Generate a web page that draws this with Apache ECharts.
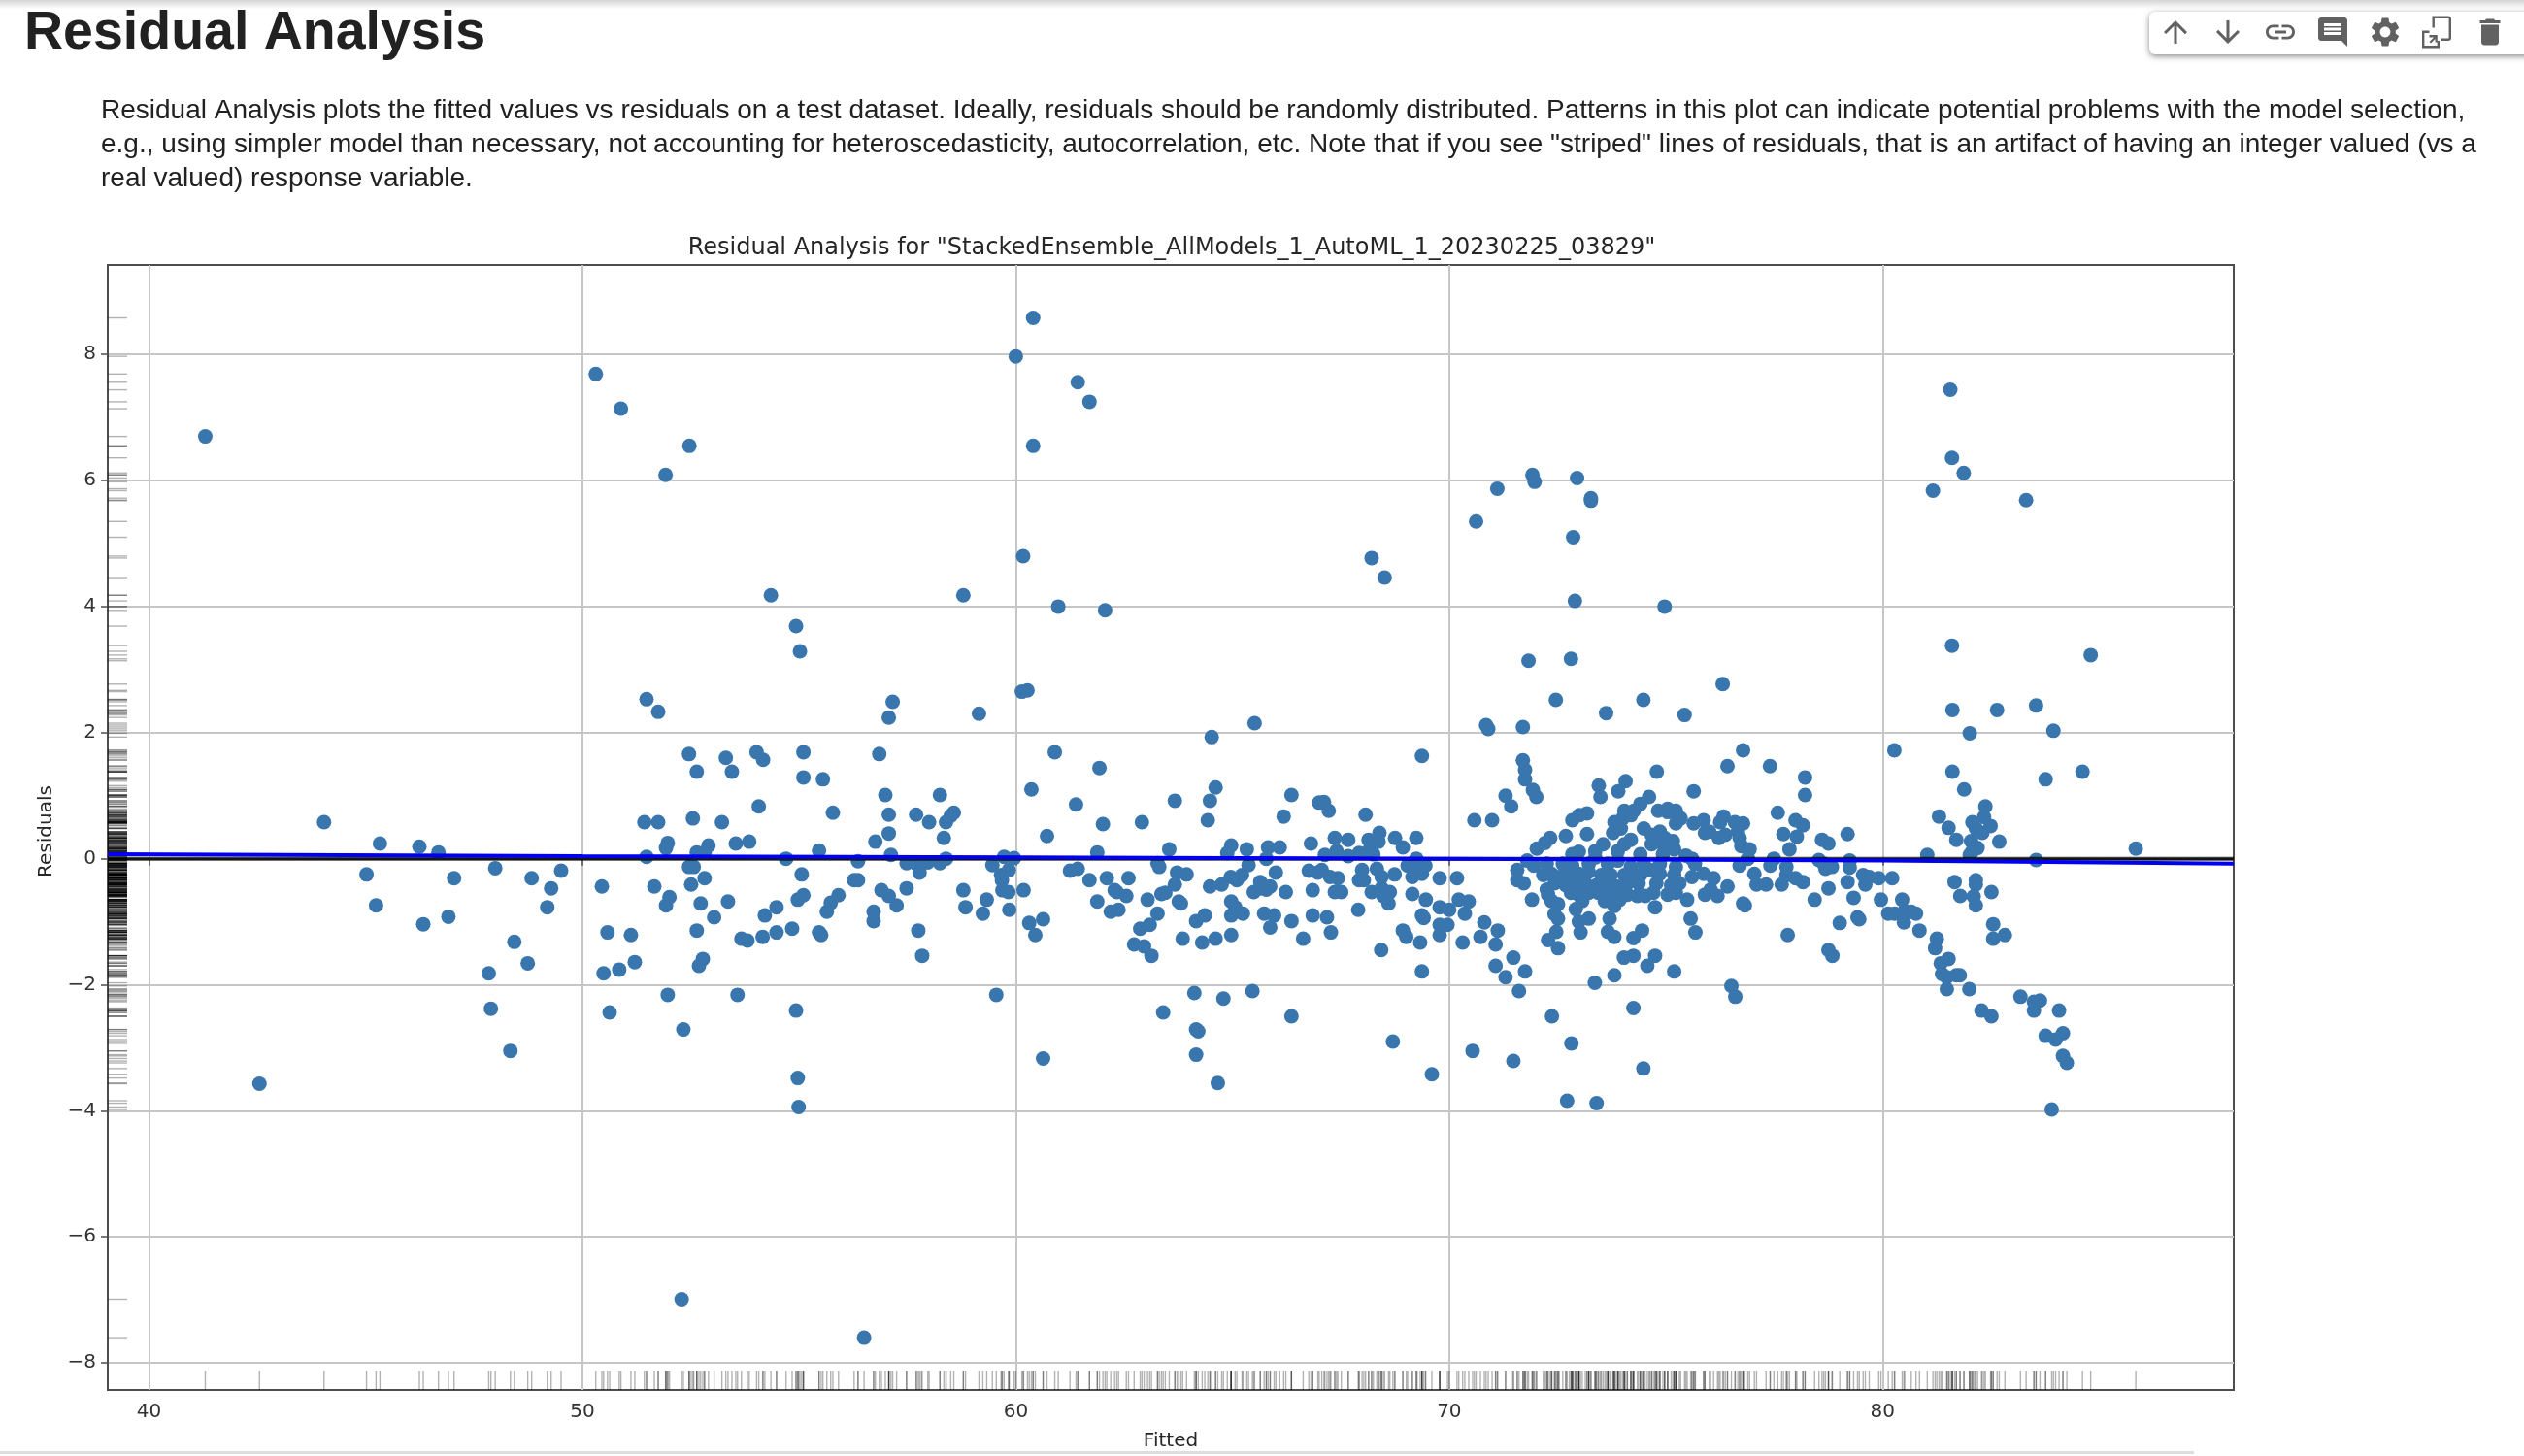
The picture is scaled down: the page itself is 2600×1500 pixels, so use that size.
<!DOCTYPE html>
<html><head><meta charset="utf-8">
<style>html,body{margin:0;padding:0;background:#fff}#c{width:2600px;height:1500px;filter:blur(.5px)}</style>
<script src="https://cdn.jsdelivr.net/npm/echarts@6/dist/echarts.min.js"></script>
</head><body><div id="c"></div>
<script>
const pageTitle = 'Residual Analysis';
const introLines = [
 'Residual Analysis plots the fitted values vs residuals on a test dataset. Ideally, residuals should be randomly distributed. Patterns in this plot can indicate potential problems with the model selection,',
 'e.g., using simpler model than necessary, not accounting for heteroscedasticity, autocorrelation, etc. Note that if you see "striped" lines of residuals, that is an artifact of having an integer valued (vs a',
 'real valued) response variable.'
];
const chartTitle = 'Residual Analysis for "StackedEnsemble_AllModels_1_AutoML_1_20230225_03829"';
const xTicks = [40,50,60,70,80];
const yTicks = [-8,-6,-4,-2,0,2,4,6,8];
const fitX = [39.05,50,60,70,80,88.1];
const fitY = [0.07,0.04,0.02,0,-0.03,-0.08];
const zeroX = [39.05,88.1];
const zeroY = [0,0];

const pts40s = [[41.30,6.70],[42.55,-3.57],[44.04,.58],[45.02,-.25],[45.24,-.74],[45.33,.24],[46.24,.19],[46.33,-1.04],[46.68,.10],[46.91,-.92],[47.04,-.31],[47.84,-1.82],[47.89,-2.38],[47.99,-.15],[48.34,-3.05],[48.43,-1.32],[48.74,-1.66],[48.83,-.31],[49.19,-.77],[49.28,-.47],[49.51,-.19]];

const pts50s = [[50.31,7.69],[50.89,7.14],[52.47,6.55],[51.92,6.09],[54.35,4.18],[54.93,3.69],[55.02,3.29],[52.29,-6.99],[56.5,-7.6],[54.99,-3.94],
[51.48,2.53],[51.75,2.33],[57.16,2.49],[57.07,2.24],[52.46,1.66],[52.64,1.38],[53.31,1.60],[53.45,1.38],[54.02,1.69],[54.17,1.57],[55.10,1.69],[55.10,1.29],[55.55,1.26],[56.85,1.66],[56.99,1.01],[54.07,.83],[55.78,.73],[57.07,.70],[57.70,.70],[58.0,.58],
[51.43,.58],[51.75,.58],[52.55,.64],[53.22,.58],[51.97,.25],[51.93,.17],[52.91,.21],[53.54,.24],[53.85,.27],[52.64,.10],[52.82,.10],[56.76,.27],[57.07,.40],[55.46,.13],[51.48,.03],[54.7,0],[56.36,-.04],[57.12,.06],[57.48,-.07],[57.82,-.08],[57.71,-.08],[57.97,-.06],[57.78,-.22],
[52.46,-.13],[52.57,-.13],[52.82,-.31],[52.51,-.41],[51.66,-.44],[50.45,-.44],[52.01,-.61],[51.93,-.74],[52.73,-.71],[53.36,-.68],[53.04,-.93],[54.21,-.90],[54.48,-.77],[55.06,-.25],[56.27,-.34],[56.36,-.34],[55.10,-.58],[54.97,-.65],[55.91,-.58],[55.73,-.70],[55.64,-.84],[56.9,-.50],[57.07,-.59],[57.25,-.74],[57.48,-.47],[56.72,-.84],[56.72,-.99],[57.75,-1.14],[57.84,-1.54],
[50.58,-1.17],[51.12,-1.21],[52.64,-1.14],[53.67,-1.27],[53.81,-1.30],[54.16,-1.24],[54.48,-1.17],[54.84,-1.11],[55.46,-1.17],[55.51,-1.21],[52.78,-1.59],[52.69,-1.70],[51.21,-1.64],[50.85,-1.76],[50.49,-1.82],[51.97,-2.16],[53.58,-2.16],[50.63,-2.44],[54.93,-2.41],[52.33,-2.71],[54.97,-3.48],
[59.15,2.30],[58.25,1.01],[58.57,.73],[58.5,.68],[58.39,.58],[58.34,.33],[58.39,0],[58.25,-.07],[59.73,.03],[59.96,.01],[59.46,-.10],[59.84,-.18],[59.66,-.26],[59.68,-.34],[58.79,-.50],[59.69,-.50],[59.83,-.53],[59.33,-.65],[58.84,-.77],[59.24,-.87],[59.85,-.81],[59.55,-2.16],[58.79,4.18]];

const pts60s = [[60.4,8.58],[60.0,7.97],[61.43,7.56],[61.70,7.25],[60.4,6.55],[60.17,4.80],[60.98,4.0],[62.06,3.94],[68.21,4.77],[68.51,4.46],[60.14,2.65],[60.27,2.67],
[60.18,-.50],[60.31,-1.02],[60.63,-.96],[60.45,-1.21],[60.63,-3.17],[60.90,1.69],[60.36,1.10],[61.93,1.44],[61.39,.86],[60.72,.36],[62.01,.55],[62.91,.58],[61.88,.10],[63.54,.15],[63.67,.92],[64.52,1.93],[65.51,2.15],[64.61,1.13],[64.48,.92],[64.43,.61],[66.36,1.01],[66.18,.67],[67.0,.89],
[61.25,-.19],[61.43,-.16],[61.70,-.34],[62.10,-.31],[62.60,-.31],[62.28,-.50],[62.33,-.53],[62.55,-.59],[61.88,-.68],[62.19,-.84],[62.37,-.81],[63.27,-.07],[63.31,-.13],[63.72,-.22],[63.94,-.25],[63.67,-.41],[63.04,-.65],[63.36,-.56],[63.45,-.54],[63.76,-.68],[63.81,-.71],[63.27,-.87],[63.09,-1.05],[62.87,-1.11],[62.73,-1.36],[62.96,-1.39],[63.13,-1.54],[63.85,-1.27],[64.16,-.99],[64.36,-.90],[64.3,-1.33],[64.61,-1.27],[64.97,-1.21],
[64.97,.21],[64.88,.09],[65.33,.15],[65.82,.18],[66.09,.18],[66.81,.24],[65.78,0],[65.37,-.10],[65.22,-.26],[65.1,-.34],[64.96,-.29],[64.75,-.41],[64.48,-.44],[66.0,-.22],[66.76,-.19],[66.97,-.22],[65.64,-.37],[65.87,-.44],[65.78,-.49],[65.49,-.53],[65.64,-.47],[66.23,-.53],[66.85,-.50],[64.97,-.68],[65.06,-.77],[64.97,-.90],[65.24,-.87],[65.73,-.87],[65.96,-.90],[65.87,-1.09],[66.36,-.99],[66.85,-.90],[66.63,-1.27],
[64.12,-2.13],[64.79,-2.22],[65.46,-2.10],[63.4,-2.44],[64.16,-2.71],[64.21,-2.74],[64.16,-3.11],[66.36,-2.50],[64.66,-3.56],
[69.37,1.63],[67.11,.90],[67.22,.76],[68.07,.70],[67.36,.33],[67.67,.30],[68.39,.41],[68.14,.30],[68.37,.27],[68.75,.33],[68.93,.18],[69.24,.33],[67.4,.12],[67.13,.06],[67.67,.04],[67.92,.09],[68.14,.12],[68.25,.07],
[69.24,0],[69.04,-.11],[69.45,-.11],[69.26,-.18],[69.37,-.24],[69.15,-.29],[67.99,-.18],[68.33,-.16],[68.44,-.29],[68.74,-.25],[67.06,-.18],[67.25,-.29],[67.43,-.31],[67.92,-.34],[68.03,-.34],[67.36,-.53],[67.51,-.53],[68.21,-.53],[68.44,-.47],[68.63,-.53],[68.48,-.59],[68.6,-.71],[67.9,-.81],[69.15,-.56],[69.46,-.65],[69.78,-.31],[69.78,-.77],[69.37,-.90],[69.41,-.94],[67.18,-.93],[67.27,-1.17],[68.93,-1.14],[69.01,-1.24],[69.33,-1.33],[68.43,-1.45],[69.78,-1.05],[69.78,-1.21],[69.96,-1.05],[69.37,-1.79],[68.7,-2.90],[69.6,-3.42]];

const pts70s = [[70.62,5.35],[71.11,5.87],[71.92,6.09],[71.97,5.98],[72.95,6.04],[73.27,5.72],[73.27,5.68],[72.86,5.10],[72.9,4.09],[71.83,3.14],[72.81,3.17],[72.46,2.52],[73.62,2.31],[74.48,2.52],[75.43,2.28],[74.97,4.0],[76.31,2.77],
[70.0,-.81],[70.18,-.31],[70.22,-.65],[70.45,-.68],[70.36,-.87],[70.31,-1.33],[70.81,-1.01],[71.12,-1.14],[70.72,-1.24],[71.07,-1.36],[71.48,-1.57],[71.07,-1.70],[71.30,-1.88],[71.75,-1.79],[71.61,-2.10],[70.54,-3.05],[71.48,-3.21],[72.82,-2.93],[72.37,-2.50],[74.25,-2.37],[74.48,-3.33],[73.36,-1.97],[73.81,-1.85],[74.57,-1.70],[74.75,-1.54],[75.19,-1.79],[74.03,-1.57],[74.25,-1.54],
[72.72,-3.84],[73.4,-3.88],
[70.58,.61],[70.99,.61],[71.30,1.0],[71.43,.83],[71.70,1.56],[71.75,1.41],[71.75,1.26],[71.93,1.09],[72.01,.98],[70.85,2.12],[70.9,2.06],[71.70,2.09],
[73.45,1.16],[73.49,.98],[74.07,1.23],[73.9,1.07],[74.79,1.38],[75.64,1.07],[74.61,.98],[73.18,.72],[73.0,.69],[72.84,.61],[72.69,.36],[73.18,.39],[72.33,.33],[72.21,.25],[72.02,.16],
[74.41,.87],[74.26,.76],[74.04,.76],[74.19,.69],[74.0,.64],[73.81,.58],[73.78,.41],[73.96,.48],[74.19,.30],[74.04,.23],[73.89,.12],[73.55,.23],[73.37,.12],[72.99,.11],[72.84,.07],
[74.82,.76],[75.04,.79],[75.23,.76],[75.34,.64],[75.23,.56],[75.04,.74],[75.64,.56],[75.87,.61],[75.9,.41],[74.49,.48],[74.67,.38],[74.86,.43],[74.78,.28],[74.97,.33],[75.16,.28],[74.97,.17],[74.67,.23],[75.19,.15],[74.93,.07],[74.41,.07],[75.46,.05],[75.6,0],
[71.8,-.03],[71.95,-.11],[72.25,-.08],[72.62,-.08],[72.84,-.11],[73.22,-.08],[73.37,.02],[73.66,-.08],[73.89,-.03],[74.19,-.13],[74.49,-.08],[74.86,-.08],[75.23,-.13],[75.67,-.08],
[71.57,-.18],[71.57,-.34],[71.72,-.39],[71.91,-.65],
[72.17,-.26],[72.36,-.24],[72.54,-.29],[72.77,-.24],[72.99,-.24],[73.22,-.21],[73.51,-.26],[73.73,-.26],[74.04,-.26],[74.22,-.24],[74.41,-.26],[74.63,-.18],[74.86,-.24],[75.19,-.26],[75.6,-.29],[75.87,-.24],
[72.25,-.49],[72.43,-.39],[72.69,-.42],[72.92,-.39],[73.14,-.39],[73.4,-.42],[73.66,-.39],[73.85,-.44],[74.11,-.39],[74.37,-.39],[74.78,-.39],[75.12,-.42],[75.31,-.39],
[72.28,-.57],[72.81,-.54],[72.99,-.57],[73.22,-.54],[73.44,-.54],[73.66,-.57],[73.89,-.52],[74.11,-.57],[74.34,-.59],[74.52,-.59],[74.71,-.54],[75.04,-.57],[75.23,-.54],[75.9,-.57],
[72.36,-.67],[72.51,-.72],[73.07,-.67],[73.59,-.67],[73.78,-.7],[73.93,-.65],[75.49,-.65],[74.75,-.77],[72.92,-.8],[73.81,-.75],[72.43,-.88],[72.51,-.95],[73.22,-.95],[72.99,-1.0],[73.7,-.95],[73.03,-1.17],[73.66,-1.16],[73.81,-1.24],[74.45,-1.14],[74.25,-1.26],[72.47,-1.16],[72.28,-1.29],[72.51,-1.42],[75.57,-.95],[75.68,-1.17],
[76.78,1.72],[76.42,1.47],[77.40,1.47],[78.21,1.29],[78.21,1.01],[77.58,.73],[76.33,.67],[76.25,.58],[76.59,.58],[76.78,.56],[77.99,.61],[78.16,.53],[77.71,.39],[78.02,.35],[76.22,.33],[76.37,.38],[76.0,.43],[76.66,.43],[76.7,.33],[76.74,.2],[76.93,.15],[78.6,.3],[78.75,.24],[79.19,.39],[77.85,.15],[77.49,0],[77.41,-.11],[77.78,-.13],[76.7,-.11],[76.89,0],[78.53,-.02],[78.68,-.16],[78.83,-.13],[78.64,-.08],[79.24,-.03],[79.24,-.14],
[77.04,-.24],[77.09,-.41],[77.31,-.41],[76.1,-.31],[76.42,-.44],[76.03,-.49],[76.19,-.59],[77.78,-.26],[77.67,-.41],[77.99,-.31],[78.16,-.37],[78.75,-.47],[78.43,-.65],[76.78,-.71],[76.82,-.74],[79.19,-.37],[79.33,-.62],[79.55,-.26],[79.69,-.29],[79.91,-.31],[79.6,-.41],[79.96,-.65],[79.01,-1.02],[79.42,-.93],[79.46,-.96],[77.81,-1.21],[78.75,-1.45],[78.84,-1.54],[76.51,-2.02],[76.6,-2.19]];

const pts80s = [[81.03,.06],[82.01,.06],[83.54,-.02],[81.61,2.36],[82.64,2.36],[83.54,2.43],[82.01,1.99],[83.94,2.03],[80.27,1.72],[81.61,1.38],[81.88,1.10],[83.76,1.26],[84.61,1.38],[82.37,.83],[81.3,.67],[81.52,.49],[81.7,.30],[82.69,.27],[82.07,.58],[82.34,.66],[82.15,.48],[82.49,.52],[82.3,.41],[82.04,.28],[82.19,.17],[82.07,.12],
[81.66,-.37],[82.15,-.34],[82.15,-.41],[82.51,-.53],[81.79,-.59],[82.1,-.6],[82.15,-.74],[82.55,-1.04],[82.82,-1.21],[82.55,-1.27],
[80.22,-.31],[80.13,-.87],[80.28,-.87],[80.45,-.65],[80.51,-.83],[80.66,-.84],[80.77,-.87],[80.49,-1.01],[80.85,-1.14],[81.25,-1.27],[81.21,-1.42],[81.52,-1.59],[81.34,-1.66],[81.37,-1.83],[81.48,-1.88],[81.7,-1.85],[81.78,-1.85],[81.48,-2.07],[82.0,-2.07],[82.28,-2.41],[82.51,-2.5],[83.18,-2.19],[83.49,-2.27],[83.63,-2.25],[83.49,-2.41],[84.07,-2.41],[83.76,-2.81],[83.99,-2.87],[84.16,-2.77],[84.16,-3.13],[84.25,-3.24],[83.9,-3.98],
[81.56,7.44],[81.6,6.36],[81.87,6.12],[81.16,5.84],[83.31,5.69],[81.6,3.38],[84.8,3.23],[85.84,.16]];

const icons = [
 'M4 12l1.41 1.41L11 7.83V20h2V7.83l5.58 5.59L20 12l-8-8-8 8z',
 'M20 12l-1.41-1.41L13 16.17V4h-2v12.17l-5.58-5.59L4 12l8 8 8-8z',
 'M3.9 12c0-1.71 1.39-3.1 3.1-3.1h4V7H7c-2.76 0-5 2.24-5 5s2.24 5 5 5h4v-1.9H7c-1.71 0-3.1-1.39-3.1-3.1zM8 13h8v-2H8v2zm9-6h-4v1.9h4c1.71 0 3.1 1.39 3.1 3.1s-1.39 3.1-3.1 3.1h-4V17h4c2.76 0 5-2.24 5-5s-2.24-5-5-5z',
 'M21.99 4c0-1.1-.89-2-1.99-2H4c-1.1 0-2 .9-2 2v12c0 1.1.9 2 2 2h14l4 4-.01-18zM18 14H6v-2h12v2zm0-3H6V9h12v2zm0-3H6V6h12v2z',
 'M19.14 12.94c.04-.3.06-.61.06-.94 0-.32-.02-.64-.07-.94l2.03-1.58c.18-.14.23-.41.12-.61l-1.92-3.32c-.12-.22-.37-.29-.59-.22l-2.39.96c-.5-.38-1.03-.7-1.62-.94l-.36-2.54c-.04-.24-.24-.41-.48-.41h-3.84c-.24 0-.43.17-.47.41l-.36 2.54c-.59.24-1.13.57-1.62.94l-2.39-.96c-.22-.08-.47 0-.59.22L2.74 8.87c-.12.21-.08.47.12.61l2.03 1.58c-.05.3-.09.63-.09.94s.02.64.07.94l-2.03 1.58c-.18.14-.23.41-.12.61l1.92 3.32c.12.22.37.29.59.22l2.39-.96c.5.38 1.03.7 1.62.94l.36 2.54c.05.24.24.41.48.41h3.84c.24 0 .44-.17.47-.41l.36-2.54c.59-.24 1.13-.56 1.62-.94l2.39.96c.22.08.47 0 .59-.22l1.92-3.32c.12-.22.07-.47-.12-.61l-2.01-1.58zM12 15.6c-1.98 0-3.6-1.62-3.6-3.6s1.62-3.6 3.6-3.6 3.6 1.62 3.6 3.6-1.62 3.6-3.6 3.6z',
 'M9 1h11a2 2 0 0 1 2 2v13a2 2 0 0 1-2 2h-5v-1.6h5a.4.4 0 0 0 .4-.4V3a.4.4 0 0 0-.4-.4H10.6V9H9V1zM2 11h5v1.6H3.6v8.8h8.8V18H14v5H2V11zM7 14h5.5v5H11v-2.4l-3 3-1-1 3-3H7z',
 'M6 19c0 1.1.9 2 2 2h8c1.1 0 2-.9 2-2V7H6v12zM19 4h-3.5l-1-1h-5l-1 1H5v2h14V4z'
];
const iconCentersX = [2241,2295,2349,2403,2457,2510,2565];

const points = [...pts40s,...pts50s,...pts60s,...pts70s,...pts80s];
const xMin = 39.05, xMax = 88.1, yMin = -8.43, yMax = 9.42;
const pxPerX = 44.65, pxPerY = 65, rugLen = 20;
const rugX = points.map(p => [p[0], yMin + rugLen/2/pxPerY]);
const rugY = points.map(p => [xMin + rugLen/2/pxPerX, p[1]]);
const body = "'Liberation Sans', Arial, sans-serif";
const mpl = "'DejaVu Sans', sans-serif";

const graphicBase = [
 {type:'rect',silent:true,shape:{x:0,y:0,width:2600,height:9},style:{fill:{type:'linear',x:0,y:0,x2:0,y2:1,colorStops:[{offset:0,color:'#d4d4d4'},{offset:1,color:'#ffffff'}]}}},
 {type:'rect',silent:true,shape:{x:0,y:1495,width:2260,height:3},style:{fill:'#dddddd'}},
 {type:'text',silent:true,x:25,y:7,style:{text:pageTitle,font:"bold 55.5px "+body,fill:'#212121'}},
 {type:'rect',silent:true,shape:{x:2214,y:12,width:400,height:44,r:6},style:{fill:'#fff',shadowBlur:6,shadowOffsetY:2,shadowColor:'rgba(0,0,0,0.45)'}}
];
introLines.forEach((t,i)=>graphicBase.push({type:'text',silent:true,x:104,y:100+i*35,style:{text:t,font:"28px "+body,fill:'#212121'}}));

const chart = echarts.init(document.getElementById('c'),null,{renderer:'canvas'});
chart.setOption({
 animation:false,backgroundColor:'#fff',
 title:{text:chartTitle,left:1202,top:239,textAlign:'center',textStyle:{fontFamily:mpl,fontSize:24,fontWeight:'normal',color:'#262626'}},
 grid:{left:111,right:299,top:273,bottom:67,show:true,borderColor:'#4d4d4d',borderWidth:2,backgroundColor:'transparent'},
 xAxis:{type:'value',min:xMin,max:xMax,name:'Fitted',nameLocation:'middle',nameGap:43,
  nameTextStyle:{fontFamily:mpl,fontSize:20,color:'#262626'},
  axisLine:{show:true,lineStyle:{color:'#4d4d4d',width:2}},
  axisTick:{show:true,length:7,lineStyle:{color:'#4d4d4d',width:1.5},customValues:xTicks},
  axisLabel:{show:true,customValues:xTicks,margin:13,fontFamily:mpl,fontSize:20,color:'#333'},
  splitLine:{show:true,lineStyle:{color:'#c6c6c6',width:2}}},
 yAxis:{type:'value',min:yMin,max:yMax,name:'Residuals',nameLocation:'middle',nameGap:53,
  nameTextStyle:{fontFamily:mpl,fontSize:20,color:'#262626',padding:[0,8,0,0]},
  axisLine:{show:true,lineStyle:{color:'#4d4d4d',width:2}},
  axisTick:{show:true,length:7,lineStyle:{color:'#4d4d4d',width:1.5},customValues:yTicks},
  axisLabel:{show:true,customValues:yTicks,margin:12,fontFamily:mpl,fontSize:20,color:'#333',formatter:v=>v<0?'\u2212'+(-v):String(v)},
  splitLine:{show:true,lineStyle:{color:'#c6c6c6',width:2}}},
 graphic:graphicBase,
 series:[
  {type:'scatter',name:'Fitted rug',data:rugX,symbol:'rect',symbolSize:[1.4,rugLen],silent:true,z:2,itemStyle:{color:'#000',opacity:0.3}},
  {type:'scatter',name:'Residual rug',data:rugY,symbol:'rect',symbolSize:[rugLen,1.4],silent:true,z:2,itemStyle:{color:'#000',opacity:0.3}},
  {type:'scatter',name:'Residuals',data:points,symbol:'circle',symbolSize:15,silent:true,z:3,itemStyle:{color:'#3a76ae',opacity:1}},
  {type:'line',name:'Zero',data:zeroX.map((x,i)=>[x,zeroY[i]]),symbol:'none',silent:true,z:4,lineStyle:{color:'#000',width:4,opacity:0.75}},
  {type:'line',name:'Fit',data:fitX.map((x,i)=>[x,fitY[i]]),symbol:'none',silent:true,z:5,lineStyle:{color:'#0000f0',width:4}}
 ]
});
const iconEls = icons.map((d,i)=>({type:'image',silent:true,x:iconCentersX[i]-18,y:15,style:{width:36,height:36,
  image:'data:image/svg+xml,'+encodeURIComponent('<svg xmlns="http://www.w3.org/2000/svg" width="36" height="36" viewBox="0 0 24 24"><path fill="#616161" d="'+d+'"/></svg>')}}));
chart.setOption({graphic:graphicBase.concat(iconEls)});
</script></body></html>
